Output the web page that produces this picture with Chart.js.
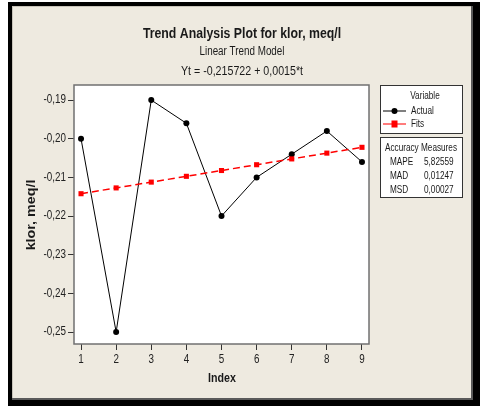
<!DOCTYPE html>
<html><head><meta charset="utf-8">
<script src="https://cdn.jsdelivr.net/npm/chart.js@4"></script>
<style>html,body{margin:0;padding:0;background:#fff}#wrap{width:480px;height:406px}</style>
</head><body><div id="wrap"><canvas id="c" width="480" height="406"></canvas></div>
<script>
const indexValues = [1, 2, 3, 4, 5, 6, 7, 8, 9];
const actualValues = [-0.200, -0.250, -0.190, -0.196, -0.220, -0.210, -0.204, -0.198, -0.206];
const fitValues = [-0.214222, -0.212722, -0.211222, -0.209722, -0.208222, -0.206722, -0.205222, -0.203722, -0.202222];
const xTicks = [1, 2, 3, 4, 5, 6, 7, 8, 9];
const yTicks = [-0.25, -0.24, -0.23, -0.22, -0.21, -0.20, -0.19];
const titleLines = ['Trend Analysis Plot for klor, meq/l', 'Linear Trend Model', 'Yt = -0,215722 + 0,0015*t'];
const accuracyLabels = ['MAPE', 'MAD', 'MSD'];
const accuracyValues = ['5,82559', '0,01247', '0,00027'];

const FONT = '"Liberation Sans", Arial, sans-serif';
const NARROW = 0.82;

function txt(ctx, s, x, y, font, align, sx) {
  ctx.save();
  ctx.font = font; ctx.textAlign = align; ctx.textBaseline = 'middle';
  ctx.translate(x, y); ctx.scale(sx === undefined ? NARROW : sx, 1);
  ctx.fillText(s, 0, 0);
  ctx.restore();
}

const framePlugin = {
  id: 'frame',
  beforeDraw(chart) {
    const ctx = chart.ctx, a = chart.chartArea;
    ctx.save();
    ctx.fillStyle = '#fff'; ctx.fillRect(0, 0, 480, 406);
    ctx.fillStyle = '#000'; ctx.fillRect(8, 2, 472, 404);
    ctx.fillStyle = '#EEEAE0'; ctx.fillRect(12, 6, 461, 393);
    ctx.fillStyle = '#C8C4BA'; ctx.fillRect(12, 6, 461, 1); ctx.fillRect(12, 6, 1, 393);
    ctx.fillStyle = '#5A5A5A'; ctx.fillRect(12, 398, 461, 2); ctx.fillRect(471, 6, 2, 394);
    ctx.fillStyle = '#fff'; ctx.fillRect(a.left, a.top, a.right - a.left, a.bottom - a.top);
    ctx.restore();
  },
  afterDraw(chart) {
    const ctx = chart.ctx, a = chart.chartArea;
    ctx.save();
    ctx.strokeStyle = '#707070'; ctx.lineWidth = 1.5;
    ctx.strokeRect(a.left, a.top, a.right - a.left, a.bottom - a.top);
    ctx.fillStyle = '#1A1A1A';
    txt(ctx, titleLines[0], 242, 34, 'bold 15px ' + FONT, 'center');
    txt(ctx, titleLines[1], 242, 52, '12px ' + FONT, 'center');
    txt(ctx, titleLines[2], 242, 71, '13px ' + FONT, 'center');
    // tick labels from the library's scales
    const xs = chart.scales.x, ys = chart.scales.y;
    ctx.fillStyle = '#222';
    xs.ticks.forEach(t => txt(ctx, String(t.value), xs.getPixelForValue(t.value), a.bottom + 16, '12px ' + FONT, 'center'));
    ys.ticks.forEach(t => txt(ctx, t.value.toFixed(2).replace('.', ','), a.left - 8, ys.getPixelForValue(t.value), '12px ' + FONT, 'right'));
    // axis titles
    ctx.fillStyle = '#1A1A1A';
    txt(ctx, 'Index', 222, 378, 'bold 13px ' + FONT, 'center');
    ctx.save(); ctx.translate(31, 215); ctx.rotate(-Math.PI / 2);
    txt(ctx, 'klor, meq/l', 0, 0, 'bold 13px ' + FONT, 'center', 1.1); ctx.restore();
    // legend boxes
    ctx.fillStyle = '#fff'; ctx.strokeStyle = '#333'; ctx.lineWidth = 1;
    ctx.fillRect(380.5, 85.5, 82, 48); ctx.strokeRect(380.5, 85.5, 82, 48);
    ctx.fillRect(380.5, 137.5, 82, 60); ctx.strokeRect(380.5, 137.5, 82, 60);
    ctx.fillStyle = '#1A1A1A';
    txt(ctx, 'Variable', 425, 96, '10px ' + FONT, 'center');
    txt(ctx, 'Actual', 411, 111, '10px ' + FONT, 'left');
    txt(ctx, 'Fits', 411, 124, '10px ' + FONT, 'left');
    ctx.strokeStyle = '#000'; ctx.beginPath(); ctx.moveTo(383, 111); ctx.lineTo(406, 111); ctx.stroke();
    ctx.fillStyle = '#000'; ctx.beginPath(); ctx.arc(394.5, 111, 3, 0, Math.PI * 2); ctx.fill();
    ctx.strokeStyle = '#FF5050'; ctx.lineWidth = 1.5; ctx.beginPath(); ctx.moveTo(383, 124); ctx.lineTo(406, 124); ctx.stroke();
    ctx.fillStyle = '#F00'; ctx.fillRect(391.5, 120.5, 6, 7);
    ctx.fillStyle = '#1A1A1A';
    txt(ctx, 'Accuracy Measures', 421, 148, '10px ' + FONT, 'center');
    for (let i = 0; i < accuracyLabels.length; i++) {
      const y = 162 + i * 14;
      txt(ctx, accuracyLabels[i], 390, y, '10px ' + FONT, 'left');
      txt(ctx, accuracyValues[i], 424, y, '10px ' + FONT, 'left');
    }
    ctx.restore();
  }
};

new Chart(document.getElementById('c'), {
  type: 'line',
  data: {
    datasets: [
      {
        label: 'Actual',
        data: indexValues.map((x, i) => ({ x: x, y: actualValues[i] })),
        borderColor: '#000', borderWidth: 1,
        pointRadius: 3, pointBackgroundColor: '#000', pointBorderColor: '#000', pointBorderWidth: 0,
        pointStyle: 'circle', tension: 0, order: 2
      },
      {
        label: 'Fits',
        data: indexValues.map((x, i) => ({ x: x, y: fitValues[i] })),
        borderColor: '#FF0000', borderWidth: 1.5, borderDash: [7, 4],
        pointRadius: 3.6, pointBackgroundColor: '#F00', pointBorderColor: '#F00', pointBorderWidth: 0,
        pointStyle: 'rect', tension: 0, order: 1
      }
    ]
  },
  options: {
    responsive: false, animation: false, devicePixelRatio: 1,
    layout: { padding: { left: 0, right: 111, top: 85, bottom: 0 } },
    plugins: { legend: { display: false }, title: { display: false }, tooltip: { enabled: false } },
    scales: {
      x: {
        type: 'linear', min: 0.8, max: 9.2,
        afterBuildTicks: s => { s.ticks = xTicks.map(v => ({ value: v })); },
        afterFit: s => { s.height = 62; },
        grid: { drawOnChartArea: false, tickLength: 6, color: '#333', tickColor: '#333', lineWidth: 1 },
        border: { display: false },
        ticks: { display: false }
      },
      y: {
        type: 'linear', min: -0.2531, max: -0.1861,
        afterBuildTicks: s => { s.ticks = yTicks.map(v => ({ value: v })); },
        afterFit: s => { s.width = 74; },
        grid: { drawOnChartArea: false, tickLength: 6, color: '#333', tickColor: '#333', lineWidth: 1 },
        border: { display: false },
        ticks: { display: false }
      }
    }
  },
  plugins: [framePlugin]
});
</script>
</body></html>
